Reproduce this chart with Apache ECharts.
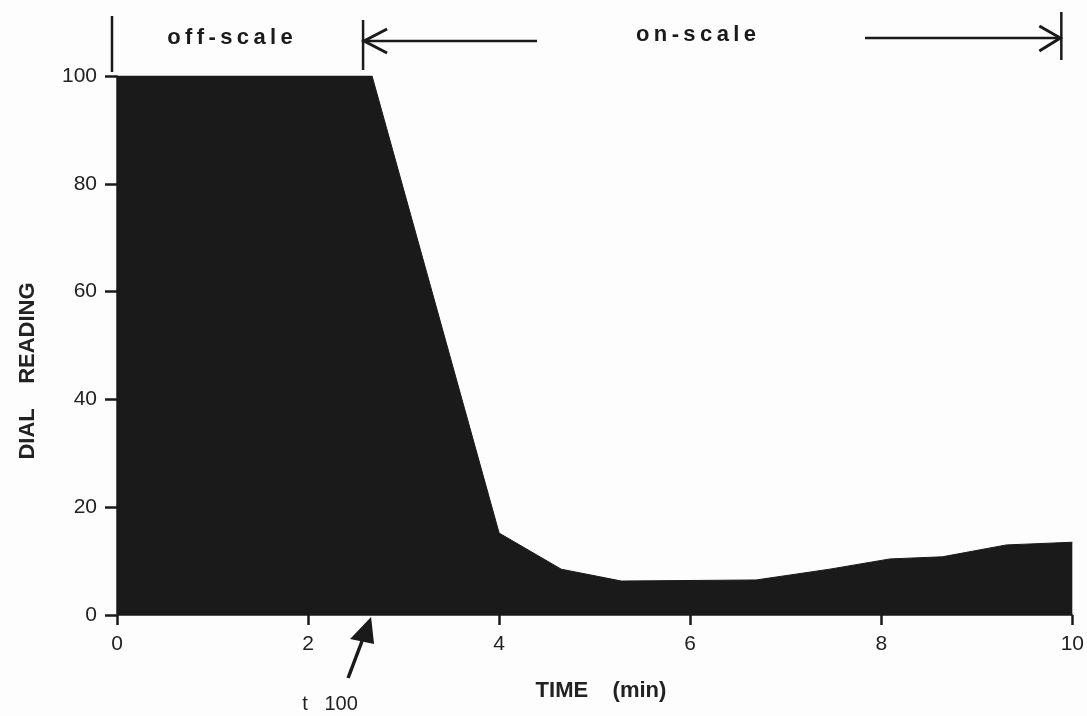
<!DOCTYPE html>
<html>
<head>
<meta charset="utf-8">
<title>Dial reading vs time</title>
<script src="https://cdn.jsdelivr.net/npm/echarts@6/dist/echarts.min.js"></script>
<style>
  html, body { margin: 0; padding: 0; background: #fdfdfd; }
  #chart { width: 1087px; height: 716px; }
</style>
</head>
<body>
<div id="chart"></div>
<script>
// Dial reading (0-100) recorded over ten minutes; the dial is pinned at 100 until t100.
const times    = [0, 2.67, 4.0, 4.65, 5.28, 6.69, 7.46, 8.09, 8.64, 9.31, 10.0];
const readings = [100, 100, 15.2, 8.5, 6.3, 6.5, 8.5, 10.4, 10.8, 13.0, 13.5];
const xRange = [0, 10, 2];   // min, max, interval (minutes)
const yRange = [0, 100, 20]; // min, max, interval (dial units)
const phaseLabels = ['off-scale', 'on-scale'];
const t100Label = 't   100';
const xTitle = 'TIME    (min)';
const yTitle = 'DIAL    READING';

const t100 = times[1];
const ink = '#1a1a1a';
const font = "'Liberation Sans', Arial, Helvetica, sans-serif";
const spaced = s => s.split('').join('\u2009');

const chart = echarts.init(document.getElementById('chart'), null, { renderer: 'canvas' });

chart.setOption({
  backgroundColor: '#fdfdfd',
  animation: false,
  grid: { left: 117, right: 14, top: 76, bottom: 101, containLabel: false },
  xAxis: {
    type: 'value',
    min: xRange[0], max: xRange[1], interval: xRange[2],
    axisLine: { show: true, lineStyle: { color: ink, width: 1.5 } },
    axisTick: { show: true, length: 10, lineStyle: { color: ink, width: 2.5 } },
    splitLine: { show: false },
    axisLabel: { color: '#222', fontFamily: font, fontSize: 21, margin: 19 }
  },
  yAxis: {
    type: 'value',
    min: yRange[0], max: yRange[1], interval: yRange[2],
    axisLine: { show: true, lineStyle: { color: ink, width: 1.5 } },
    axisTick: { show: true, length: 12, lineStyle: { color: ink, width: 2.5 } },
    splitLine: { show: false },
    axisLabel: { color: '#222', fontFamily: font, fontSize: 21, margin: 20 }
  },
  series: [{
    type: 'line',
    data: times.map((t, i) => [t, readings[i]]),
    symbol: 'none',
    lineStyle: { color: ink, width: 1 },
    areaStyle: { color: ink, opacity: 1 },
    z: 2
  }]
});

// Annotations placed from the axis scale
const toPx = (x, y) => chart.convertToPixel({ gridIndex: 0 }, [x, y]);
const x0 = toPx(0, 0)[0];
const xt = toPx(t100, 0)[0];
const x10 = toPx(10, 0)[0];
const yBase = toPx(0, 0)[1];
const stroke = { stroke: ink, lineWidth: 2.5, fill: null, lineCap: 'butt', lineJoin: 'miter' };
const tip = [xt - 1, yBase + 2];

chart.setOption({
  graphic: [
    // off-scale bracket
    { type: 'line', shape: { x1: x0 - 5, y1: 16, x2: x0 - 5, y2: 72 }, style: stroke },
    { type: 'text', style: { text: spaced(phaseLabels[0]), x: 230, y: 38, align: 'center', verticalAlign: 'middle',
        font: 'bold 22px ' + font, fill: ink } },
    // on-scale bracket, left end at t100
    { type: 'line', shape: { x1: xt - 9, y1: 20, x2: xt - 9, y2: 70 }, style: stroke },
    { type: 'line', shape: { x1: xt - 9, y1: 41, x2: 537, y2: 41 }, style: stroke },
    { type: 'polyline', shape: { points: [[xt + 15, 29], [xt - 8, 41], [xt + 15, 53]] }, style: Object.assign({}, stroke, { lineWidth: 3 }) },
    { type: 'text', style: { text: spaced(phaseLabels[1]), x: 696, y: 35, align: 'center', verticalAlign: 'middle',
        font: 'bold 22px ' + font, fill: ink } },
    // on-scale bracket, right end at 10 min
    { type: 'line', shape: { x1: 865, y1: 38, x2: x10 - 11, y2: 38 }, style: stroke },
    { type: 'polyline', shape: { points: [[x10 - 33, 26], [x10 - 12, 38], [x10 - 33, 51]] }, style: Object.assign({}, stroke, { lineWidth: 3 }) },
    { type: 'line', shape: { x1: x10 - 11, y1: 12, x2: x10 - 11, y2: 60 }, style: stroke },
    // t100 pointer
    { type: 'line', shape: { x1: tip[0] - 23, y1: tip[1] + 61, x2: tip[0] - 9, y2: tip[1] + 24 },
      style: { stroke: ink, lineWidth: 3.5, lineCap: 'butt' } },
    { type: 'polygon', shape: { points: [tip, [tip[0] - 21, tip[1] + 22], [tip[0] + 3, tip[1] + 27]] },
      style: { fill: ink } },
    { type: 'text', style: { text: t100Label, x: 330, y: 704, align: 'center', verticalAlign: 'middle',
        font: '20px ' + font, fill: '#222' } },
    // axis titles
    { type: 'text', style: { text: xTitle, x: 601, y: 691, align: 'center', verticalAlign: 'middle',
        font: 'bold 22px ' + font, fill: '#222' } },
    { type: 'text', x: 28, y: 371, rotation: Math.PI / 2,
      style: { text: yTitle, x: 0, y: 0, align: 'center', verticalAlign: 'middle',
        font: 'bold 22px ' + font, fill: '#222' } }
  ]
});
</script>
</body>
</html>
